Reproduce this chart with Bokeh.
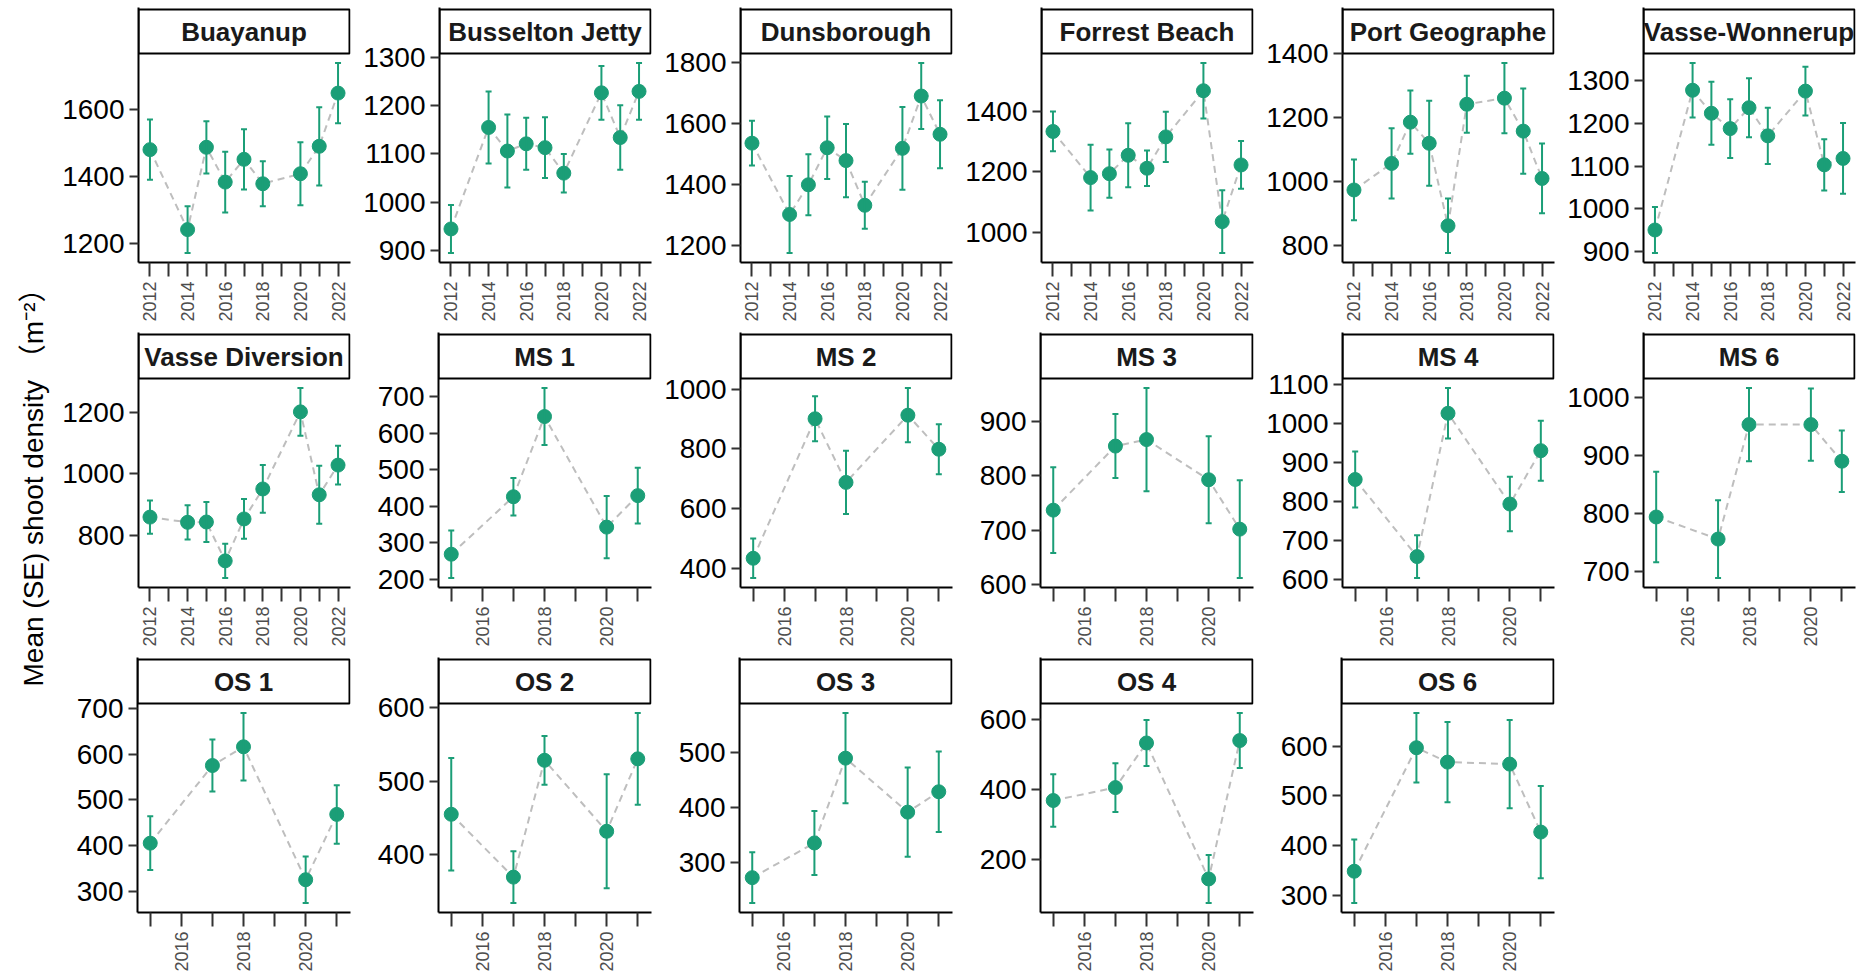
import math
from bokeh.plotting import figure
from bokeh.layouts import row, column
from bokeh.models import Range1d, FixedTicker, ColumnDataSource, Whisker, TeeHead
from bokeh.core.properties import value
from bokeh.embed import file_html
from bokeh.resources import INLINE

# ---------------- data ----------------
years_long = [2012, 2014, 2015, 2016, 2017, 2018, 2020, 2021, 2022]
years_short = [2015, 2017, 2018, 2020, 2021]

buayanup_mean = [1480, 1241, 1487, 1383, 1451, 1378, 1408, 1490, 1649]
buayanup_se = [90, 70, 78, 91, 90, 67, 94, 117, 90]
buayanup_ticks = [1200, 1400, 1600]

busselton_mean = [944, 1155, 1106, 1121, 1113, 1060, 1227, 1134, 1230]
busselton_se = [50, 75, 76, 54, 63, 40, 56, 67, 59]
busselton_ticks = [900, 1000, 1100, 1200, 1300]

dunsborough_mean = [1536, 1303, 1400, 1521, 1479, 1333, 1519, 1690, 1565]
dunsborough_se = [73, 126, 100, 102, 120, 77, 135, 108, 111]
dunsborough_ticks = [1200, 1400, 1600, 1800]

forrest_mean = [1334, 1181, 1194, 1255, 1212, 1316, 1469, 1035, 1223]
forrest_se = [66, 109, 80, 106, 59, 83, 92, 104, 79]
forrest_ticks = [1000, 1200, 1400]

portgeo_mean = [974, 1057, 1186, 1120, 862, 1242, 1261, 1158, 1010]
portgeo_se = [95, 110, 99, 133, 85, 89, 110, 133, 109]
portgeo_ticks = [800, 1000, 1200, 1400]

vwonnerup_mean = [950, 1278, 1224, 1188, 1237, 1171, 1276, 1103, 1118]
vwonnerup_se = [54, 64, 74, 69, 69, 66, 57, 60, 83]
vwonnerup_ticks = [900, 1000, 1100, 1200, 1300]

vdiversion_mean = [859, 842, 843, 716, 853, 951, 1203, 932, 1029]
vdiversion_se = [54, 56, 65, 56, 65, 78, 78, 95, 63]
vdiversion_ticks = [800, 1000, 1200]

ms1_mean = [269, 426, 645, 343, 429]
ms1_se = [65, 51, 78, 85, 76]
ms1_ticks = [200, 300, 400, 500, 600, 700]

ms2_mean = [434, 901, 688, 913, 799]
ms2_se = [66, 75, 106, 91, 84]
ms2_ticks = [400, 600, 800, 1000]

ms3_mean = [737, 855, 867, 793, 702]
ms3_se = [79, 59, 95, 80, 90]
ms3_ticks = [600, 700, 800, 900]

ms4_mean = [856, 658, 1026, 793, 930]
ms4_se = [72, 55, 65, 70, 77]
ms4_ticks = [600, 700, 800, 900, 1000, 1100]

ms6_mean = [794, 756, 953, 953, 890]
ms6_se = [78, 67, 63, 62, 53]
ms6_ticks = [700, 800, 900, 1000]

os1_mean = [405, 575, 616, 325, 468]
os1_se = [59, 57, 74, 51, 64]
os1_ticks = [300, 400, 500, 600, 700]

os2_mean = [455, 370, 528, 432, 530]
os2_se = [76, 35, 33, 77, 62]
os2_ticks = [400, 500, 600]

os3_mean = [273, 336, 490, 392, 429]
os3_se = [46, 58, 82, 81, 73]
os3_ticks = [300, 400, 500]

os4_mean = [369, 406, 534, 144, 541]
os4_se = [75, 70, 66, 69, 79]
os4_ticks = [200, 400, 600]

os6_mean = [348, 597, 568, 564, 427]
os6_se = [64, 70, 81, 89, 93]
os6_ticks = [300, 400, 500, 600]

y_title = "Mean (SE) shoot density \uff08m\u207b\u00b2\uff09"

panel_rows = [
    [("Buayanup", years_long, buayanup_mean, buayanup_se, buayanup_ticks),
     ("Busselton Jetty", years_long, busselton_mean, busselton_se, busselton_ticks),
     ("Dunsborough", years_long, dunsborough_mean, dunsborough_se, dunsborough_ticks),
     ("Forrest Beach", years_long, forrest_mean, forrest_se, forrest_ticks),
     ("Port Geographe", years_long, portgeo_mean, portgeo_se, portgeo_ticks),
     ("Vasse-Wonnerup", years_long, vwonnerup_mean, vwonnerup_se, vwonnerup_ticks)],
    [("Vasse Diversion", years_long, vdiversion_mean, vdiversion_se, vdiversion_ticks),
     ("MS 1", years_short, ms1_mean, ms1_se, ms1_ticks),
     ("MS 2", years_short, ms2_mean, ms2_se, ms2_ticks),
     ("MS 3", years_short, ms3_mean, ms3_se, ms3_ticks),
     ("MS 4", years_short, ms4_mean, ms4_se, ms4_ticks),
     ("MS 6", years_short, ms6_mean, ms6_se, ms6_ticks)],
    [("OS 1", years_short, os1_mean, os1_se, os1_ticks),
     ("OS 2", years_short, os2_mean, os2_se, os2_ticks),
     ("OS 3", years_short, os3_mean, os3_se, os3_ticks),
     ("OS 4", years_short, os4_mean, os4_se, os4_ticks),
     ("OS 6", years_short, os6_mean, os6_se, os6_ticks)],
]

# ---------------- style ----------------
GREEN = "#1B9E77"
LINE_GREY = "#BEBEBE"
FONT = "Liberation Sans"
CELL_W = 301
LEFT = 78
RIGHT = 10
DATA_W = 212          # px width of the data area
DATA_H = 209          # px height of the data area
STRIP_H = 44          # px height of the facet strip
FRAME_W = DATA_W + 1
FRAME_H = DATA_H + STRIP_H + 2
row_top = [7, 7, 7]
row_bottom = [63, 63, 66]


def make_cell(name, years, mean, se, yticks, top, bottom):
    lower = [m - e for m, e in zip(mean, se)]
    upper = [m + e for m, e in zip(mean, se)]
    ylo, yhi = min(lower), max(upper)
    ypad = 0.05 * (yhi - ylo)
    ys, ye = ylo - ypad, yhi + ypad
    xlo, xhi = min(years) - 0.1, max(years) + 0.1
    xpad = 0.05 * (xhi - xlo)
    xs, xe = xlo - xpad, xhi + xpad
    x_end = xs + (xe - xs) * FRAME_W / DATA_W
    y_end = ys + (ye - ys) * FRAME_H / DATA_H
    strip_top = ys + (ye - ys) * (DATA_H + STRIP_H) / DATA_H

    p = figure(width=CELL_W, height=top + FRAME_H + bottom,
               x_range=Range1d(xs, x_end), y_range=Range1d(ys, y_end),
               min_border_left=LEFT, min_border_right=RIGHT,
               min_border_top=top, min_border_bottom=bottom,
               toolbar_location=None, output_backend="svg")
    p.outline_line_color = None
    p.xgrid.visible = False
    p.ygrid.visible = False
    p.background_fill_color = "white"
    p.border_fill_color = "white"

    src = ColumnDataSource(dict(x=years, y=mean, lower=lower, upper=upper))
    p.line("x", "y", source=src, line_color=LINE_GREY, line_width=2,
           line_dash="7 5")
    w = Whisker(source=src, base="x", upper="upper", lower="lower",
                line_color=GREEN, line_width=2, level="glyph",
                upper_head=TeeHead(size=6, line_color=GREEN, line_width=2),
                lower_head=TeeHead(size=6, line_color=GREEN, line_width=2))
    p.add_layout(w)
    p.scatter("x", "y", source=src, size=14, fill_color=GREEN,
              line_color=GREEN)

    # facet strip
    p.quad(left=[xs], right=[xe], bottom=[ye], top=[strip_top],
           fill_color="white", line_color="#000000", line_width=2)
    p.text(x=[(xs + xe) / 2], y=[(ye + strip_top) / 2], text=[name],
           text_font=value(FONT), text_font_style="bold",
           text_font_size="26px", text_align="center",
           text_baseline="middle", text_color="#1A1A1A")

    yr = list(range(min(years), max(years) + 1))
    p.xaxis.ticker = FixedTicker(ticks=[y for y in yr if y % 2 == 0],
                                 minor_ticks=[y for y in yr if y % 2 == 1])
    p.yaxis.ticker = FixedTicker(ticks=yticks, minor_ticks=[])
    for ax in (p.xaxis, p.yaxis):
        ax.axis_line_color = "#000000"
        ax.axis_line_width = 2
        ax.major_tick_line_color = "#333333"
        ax.major_tick_line_width = 2
        ax.major_tick_in = 0
        ax.major_label_text_font = FONT
    p.xaxis.major_tick_out = 14
    p.xaxis.minor_tick_out = 14
    p.xaxis.minor_tick_in = 0
    p.xaxis.minor_tick_line_color = "#333333"
    p.xaxis.minor_tick_line_width = 2
    p.xaxis.major_label_orientation = math.pi / 2
    p.xaxis.major_label_text_font_size = "18px"
    p.xaxis.major_label_text_color = "#4D4D4D"
    p.xaxis.major_label_standoff = 5
    p.yaxis.major_tick_out = 9
    p.yaxis.minor_tick_line_color = None
    p.yaxis.major_label_text_font_size = "28px"
    p.yaxis.major_label_text_color = "#000000"
    p.yaxis.major_label_standoff = 5
    return p


rows = []
for ri, panels in enumerate(panel_rows):
    cells = [make_cell(name, years, mean, se, yticks, row_top[ri], row_bottom[ri])
             for (name, years, mean, se, yticks) in panels]
    rows.append(row(*cells, spacing=0))

tfig = figure(width=59, height=978, x_range=Range1d(0, 59),
              y_range=Range1d(0, 978), x_axis_type=None, y_axis_type=None,
              min_border=0, toolbar_location=None, output_backend="svg")
tfig.outline_line_color = None
tfig.xgrid.visible = False
tfig.ygrid.visible = False
tfig.text(x=[33], y=[498], text=[y_title], angle=math.pi / 2,
          text_font=value(FONT + ", Noto Sans CJK SC"), text_font_size="28px",
          text_align="center", text_baseline="middle", text_color="#000000")

layout = row(tfig, column(*rows, spacing=0), spacing=0)

open("out.html", "w").write(file_html(layout, INLINE))
